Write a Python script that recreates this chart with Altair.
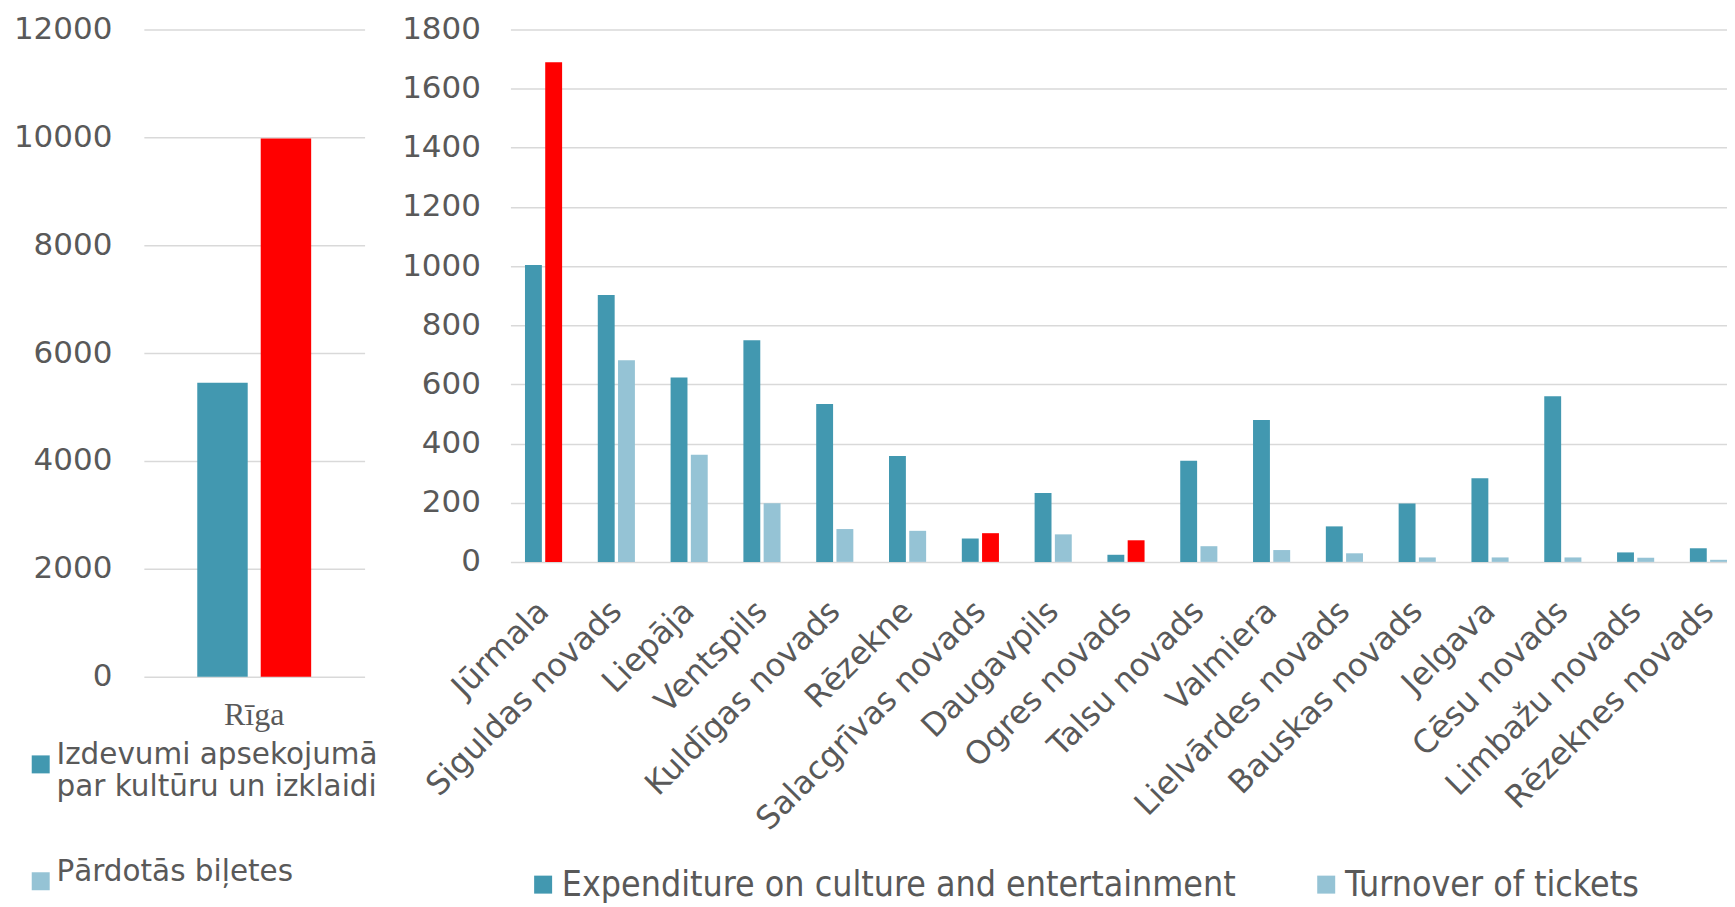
import altair as alt
import pandas as pd

# ---- data ----
regions = ["Jūrmala", "Siguldas novads", "Liepāja", "Ventspils", "Kuldīgas novads",
           "Rēzekne", "Salacgrīvas novads", "Daugavpils", "Ogres novads", "Talsu novads",
           "Valmiera", "Lielvārdes novads", "Bauskas novads", "Jelgava", "Cēsu novads",
           "Limbažu novads", "Rēzeknes novads"]
expenditure = [1004, 902, 623, 749, 534, 358, 79, 233, 24, 342, 480, 120, 197, 283, 560, 32, 46]
tickets = [1689, 682, 362, 198, 111, 105, 97, 93, 73, 53, 40, 29, 15, 15, 15, 14, 7]
highlighted = ["Jūrmala", "Salacgrīvas novads", "Ogres novads", "Rīga"]

riga_label = ["Rīga"]
riga_expenditure = [5450]
riga_tickets = [9980]

left_ticks = [0, 2000, 4000, 6000, 8000, 10000, 12000]
right_ticks = [0, 200, 400, 600, 800, 1000, 1200, 1400, 1600, 1800]

EXP_EN = "Expenditure on culture and entertainment"
TIX_EN = "Turnover of tickets"
EXP_LV = "Izdevumi apsekojumā par kultūru un izklaidi"
TIX_LV = "Pārdotās biļetes"
HIGH = "Highlight"
left_legend_lines = ["Izdevumi apsekojumā", "par kultūru un izklaidi"]

TEAL = "#4298B0"
LIGHT = "#95C3D5"
RED = "#FF0000"
GRID = "#D9D9D9"
TEXT = "#595959"


def build(names, exp, tix, exp_name, tix_name):
    rows = []
    for r, e, t in zip(names, exp, tix):
        rows.append(dict(region=r, series=0, value=e, colour=exp_name))
        rows.append(dict(region=r, series=1, value=t,
                         colour=HIGH if r in highlighted else tix_name))
    return pd.DataFrame(rows)


left_df = build(riga_label, riga_expenditure, riga_tickets, EXP_LV, TIX_LV)
right_df = build(regions, expenditure, tickets, EXP_EN, TIX_EN)

y_axis_common = dict(labelFont="DejaVu Sans", labelFontSize=31, labelColor=TEXT,
                     ticks=False, domain=False, gridColor=GRID, gridWidth=1.5,
                     format="d")

label_expr = ("datum.label == '%s' ? ['%s', '%s'] : datum.label"
              % (EXP_LV, left_legend_lines[0], left_legend_lines[1]))

left = alt.Chart(left_df).mark_bar().encode(
    x=alt.X("region:N", sort=riga_label, title=None,
            scale=alt.Scale(paddingInner=0, paddingOuter=0.469),
            axis=alt.Axis(labelAngle=0, labelFont="Liberation Serif", labelFontSize=32,
                          labelColor=TEXT, labelPadding=23, ticks=False, domain=False,
                          grid=False)),
    xOffset=alt.XOffset("series:O", scale=alt.Scale(paddingInner=0.205, paddingOuter=0)),
    y=alt.Y("value:Q", title=None, scale=alt.Scale(domain=[0, 12000], nice=False),
            axis=alt.Axis(values=left_ticks, labelPadding=32, **y_axis_common)),
    color=alt.Color("colour:N",
                    scale=alt.Scale(domain=[EXP_LV, TIX_LV, HIGH], range=[TEAL, LIGHT, RED]),
                    legend=alt.Legend(values=[EXP_LV, TIX_LV], orient="none",
                                      legendX=-118, legendY=721, title=None,
                                      symbolType="square", symbolSize=324,
                                      symbolStrokeWidth=0, labelExpr=label_expr,
                                      labelFont="DejaVu Sans", labelFontSize=29.5,
                                      labelColor=TEXT, labelOffset=1, rowPadding=55,
                                      labelLimit=500, padding=0, labelBaseline="alphabetic")),
).properties(width=221, height=648)

right = alt.Chart(right_df).mark_bar().encode(
    x=alt.X("region:N", sort=regions, title=None,
            scale=alt.Scale(paddingInner=0.49, paddingOuter=0.1, align=1),
            axis=alt.Axis(labelAngle=-45, labelFont="DejaVu Sans", labelFontSize=32,
                          labelColor=TEXT, labelPadding=44, labelBaseline="middle",
                          labelAlign="right", ticks=False, domain=False,
                          grid=False, labelLimit=500)),
    xOffset=alt.XOffset("series:O", scale=alt.Scale(paddingInner=0.166, paddingOuter=0)),
    y=alt.Y("value:Q", title=None, scale=alt.Scale(domain=[0, 1800], nice=False),
            axis=alt.Axis(values=right_ticks, labelPadding=30, **y_axis_common)),
    color=alt.Color("colour:N",
                    scale=alt.Scale(domain=[EXP_EN, TIX_EN, HIGH], range=[TEAL, LIGHT, RED]),
                    legend=alt.Legend(values=[EXP_EN, TIX_EN], orient="none",
                                      direction="horizontal", legendX=15, legendY=838,
                                      title=None, symbolType="square", symbolSize=324,
                                      symbolStrokeWidth=0,
                                      labelFont="DejaVu Sans Condensed, Liberation Sans Narrow, DejaVu Sans",
                                      labelFontSize=35.5, labelColor=TEXT, labelOffset=1,
                                      columnPadding=72, labelLimit=900, padding=0)),
).properties(width=1218, height=533)

chart = alt.hconcat(left, right, spacing=146, bounds="flush").resolve_scale(
    color="independent", y="independent", x="independent", xOffset="independent"
).properties(
    padding={"left": 5, "top": 5, "right": 0, "bottom": 0}
).configure_view(stroke=None)

chart.save("out.html", embed_options={"renderer": "svg", "actions": False})
